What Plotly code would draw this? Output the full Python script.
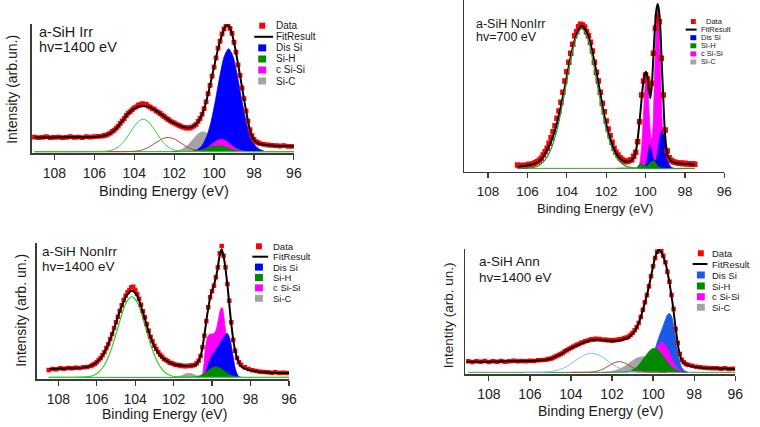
import plotly.graph_objects as go

W, H = 760, 427
FONT = "Arial, Liberation Sans, Helvetica, sans-serif"

TICKS = [108, 106, 104, 102, 100, 98, 96]
TICK_TEXT = ["108", "106", "104", "102", "100", "98", "96"]
LEGEND_LABELS = ["Data", "FitResult", "Dis Si", "Si-H", "c Si-Si", "Si-C"]

# ---------------- Panel 1 : a-SiH Irr, hv=1400 eV ----------------
P1_DATA_E = [109.0, 108.8, 108.6, 108.4, 108.2, 108.0, 107.8, 107.6, 107.4, 107.2, 107.0, 106.8, 106.6, 106.4, 106.2, 106.0, 105.8,
             105.6, 105.5, 105.4, 105.3, 105.2, 105.1, 105.0, 104.9, 104.8, 104.7, 104.6, 104.5, 104.4, 104.3, 104.2, 104.1,
             104.0, 103.9, 103.8, 103.7, 103.6, 103.5, 103.4, 103.3, 103.2, 103.1, 103.0, 102.9, 102.8, 102.7, 102.6, 102.5,
             102.4, 102.3, 102.2, 102.1, 102.0, 101.9, 101.8, 101.7, 101.6, 101.5, 101.4, 101.3, 101.2, 101.1, 101.0, 100.9,
             100.8, 100.7, 100.6, 100.5, 100.4, 100.3, 100.2, 100.1, 100.0, 99.9, 99.8, 99.7, 99.6, 99.5, 99.4, 99.3, 99.2,
             99.1, 99.0, 98.9, 98.8, 98.7, 98.6, 98.5, 98.4, 98.3, 98.2, 98.1, 98.0, 97.9, 97.8, 97.7,
             97.5, 97.3, 97.1, 96.9, 96.7, 96.5, 96.3, 96.1]
P1_DATA_I = [44, 42, 43, 45, 42, 43, 44, 42, 43, 45, 43, 44, 42, 45, 44, 45, 46,
             47, 49, 50, 53, 56, 61, 65, 71, 77, 85, 93, 100, 109, 116, 121, 127,
             132, 135, 140, 142, 145, 141, 143, 137, 134, 130, 128, 122, 119, 115, 110, 106,
             101, 97, 93, 89, 87, 83, 80, 78, 75, 73, 71, 72, 71, 74, 78, 82,
             91, 100, 113, 130, 150, 175, 200, 228, 255, 283, 312, 333, 355, 370, 385, 382, 372,
             357, 330, 300, 262, 230, 192, 160, 123, 92, 66, 48, 37, 30, 27, 24,
             22, 20, 19, 18, 17, 18, 16, 16]
P1_FIT_E = [109.0, 108.0, 107.0, 106.0, 105.5, 105.2, 104.9, 104.6, 104.3, 104.0, 103.75, 103.5, 103.25, 103.0, 102.75,
            102.5, 102.25, 102.0, 101.75, 101.5, 101.25, 101.0, 100.8, 100.6, 100.4, 100.2, 100.0, 99.8, 99.6, 99.4,
            99.25, 99.1, 98.95, 98.8, 98.6, 98.4, 98.2, 98.0, 97.8, 97.5, 97.0, 96.5, 96.0]
P1_FIT_I = [43, 43, 43.5, 44, 48, 55, 70, 92, 115, 130, 136, 138, 135, 127, 117,
            106, 95, 86, 79, 74, 72, 78, 90, 112, 150, 200, 255, 310, 352, 380,
            378, 355, 315, 265, 195, 125, 65, 36, 26, 21, 18, 17, 16]
P1_G1_E = [109.0, 106.5, 105.55, 105.3, 105.05, 104.8, 104.55, 104.3, 104.05, 103.8, 103.55, 103.3, 103.05, 102.8,
           102.55, 102.3, 102.05, 101.8, 101.55, 100.5, 96.0]
P1_G1_I = [0, 0, 0.7, 2.2, 6.1, 14.3, 28.5, 49, 72, 90.7, 98, 90.7, 72, 49, 28.5, 14.3, 6.1, 2.2, 0.7, 0, 0]
P1_G2_E = [109.0, 105.3, 104.3, 104.05, 103.8, 103.55, 103.3, 103.05, 102.8, 102.55, 102.3, 102.05, 101.8, 101.55,
           101.3, 101.05, 100.8, 100.55, 100.3, 99.3, 96.0]
P1_G2_I = [0, 0, 0.3, 1.0, 2.7, 6.3, 12.5, 21.5, 31.6, 39.8, 43, 39.8, 31.6, 21.5, 12.5, 6.3, 2.7, 1.0, 0.3, 0, 0]
P1_SIC_E = [102.15, 101.95, 101.75, 101.55, 101.35, 101.15, 100.95, 100.75, 100.55, 100.35, 100.15, 99.95, 99.75, 99.55,
            99.35, 99.15, 98.95]
P1_SIC_I = [0.4, 1.4, 3.8, 8.8, 17.5, 30, 44, 55.6, 60, 55.6, 44, 30, 17.5, 8.8, 3.8, 1.4, 0.4]
P1_DIS_E = [101.03, 100.81, 100.59, 100.37, 100.15, 99.93, 99.71, 99.49, 99.27, 99.05, 98.83, 98.61, 98.39, 98.17,
            97.95, 97.73, 97.51]
P1_DIS_I = [2.3, 7.0, 19.4, 45.3, 90.2, 155, 228, 287, 310, 287, 228, 155, 90.2, 45.3, 19.4, 7.0, 2.3]
P1_CSI_E = [101.09, 100.91, 100.73, 100.55, 100.37, 100.19, 100.01, 99.83, 99.65, 99.47, 99.29, 99.11, 98.93, 98.75,
            98.57, 98.39, 98.21]
P1_CSI_I = [0.3, 0.8, 2.3, 5.4, 10.8, 18.5, 27.2, 34.3, 37, 34.3, 27.2, 18.5, 10.8, 5.4, 2.3, 0.8, 0.3]
P1_SIH_E = [109.0, 101.8, 101.42, 101.22, 101.02, 100.82, 100.62, 100.42, 100.22, 100.02, 99.82, 99.62, 99.42, 99.22,
            99.02, 98.82, 98.62, 98.42, 98.22, 97.8, 96.0]
P1_SIH_I = [0, 0, 0.1, 0.4, 1.1, 2.6, 5.2, 9, 13.2, 16.7, 18, 16.7, 13.2, 9, 5.2, 2.6, 1.1, 0.4, 0.1, 0, 0]

# ---------------- Panel 2 : a-SiH NonIrr, hv=700 eV ----------------
P2_DATA_E = [106.5, 106.4, 106.3, 106.2, 106.1, 106.0, 105.9, 105.8, 105.7, 105.6,
             105.5, 105.4, 105.3, 105.2, 105.1, 105.0, 104.9, 104.8, 104.7, 104.6,
             104.5, 104.4, 104.3, 104.2, 104.1, 104.0, 103.9, 103.8, 103.7, 103.6,
             103.5, 103.4, 103.3, 103.2, 103.1, 103.0, 102.9, 102.8, 102.7, 102.6,
             102.5, 102.4, 102.3, 102.2, 102.1, 102.0, 101.9, 101.8, 101.7, 101.6,
             101.5, 101.4, 101.3, 101.2, 101.1, 101.0, 100.9, 100.8, 100.7, 100.6,
             100.5, 100.4, 100.3, 100.2, 100.1, 100.0, 99.9, 99.8, 99.7, 99.6,
             99.5, 99.4, 99.3, 99.2, 99.1, 99.0, 98.9, 98.8, 98.7, 98.6,
             98.5, 98.4, 98.3, 98.2, 98.1, 98.0, 97.9, 97.8, 97.7, 97.6, 97.5]
P2_DATA_I = [10, 8, 6, 9, 7, 10, 12, 11, 14, 17,
             20, 24, 30, 40, 50, 60, 75, 92, 110, 128,
             150, 172, 198, 228, 262, 290, 318, 345, 372, 398,
             410, 425, 432, 430, 424, 410, 398, 378, 352, 318,
             288, 262, 228, 195, 170, 142, 118, 98, 78, 60,
             48, 40, 32, 27, 23, 20, 21, 24, 26, 36,
             48, 80, 140, 220, 262, 280, 268, 238, 255, 345,
             420, 455, 440, 330, 220, 115, 52, 32, 24, 20,
             18, 17, 15, 16, 14, 15, 13, 14, 12, 13, 12]
P2_FIT_E = [106.5, 106.2, 105.9, 105.6, 105.4, 105.2, 105.0, 104.8, 104.6, 104.4, 104.2, 104.0, 103.8, 103.6, 103.4,
            103.25, 103.1, 102.9, 102.7, 102.5, 102.3, 102.1, 101.9, 101.7, 101.5, 101.3, 101.1, 100.9, 100.7, 100.55,
            100.45, 100.35, 100.25, 100.15, 100.05, 99.98, 99.9, 99.83, 99.76, 99.68, 99.6, 99.52, 99.44, 99.38, 99.32,
            99.25, 99.18, 99.1, 99.03, 98.95, 98.85, 98.7, 98.5, 98.2, 97.9, 97.5]
P2_FIT_I = [5, 7, 10, 15, 22, 35, 55, 80, 115, 160, 215, 275, 335, 385, 415,
            428, 420, 395, 350, 290, 225, 160, 110, 72, 45, 30, 22, 20, 25, 40,
            65, 115, 175, 240, 280, 290, 275, 235, 210, 250, 340, 425, 480, 493, 475,
            420, 320, 210, 120, 65, 35, 22, 17, 14, 13, 11]
P2_G1_E = [106.5, 105.7, 105.39, 105.09, 104.78, 104.47, 104.17, 103.86, 103.55, 103.24, 102.93, 102.63, 102.32,
           102.01, 101.71, 101.40, 101.09, 100.78, 100.3, 97.5]
P2_G1_I = [0, 3.1, 9.5, 26.3, 61.3, 122, 210, 309, 389, 420, 389, 309, 210, 122, 61.3, 26.3, 9.5, 3.1, 0, 0]
P2_CSI_E = [100.5, 100.4, 100.3, 100.2, 100.12, 100.05, 99.97, 99.9, 99.83, 99.76, 99.7, 99.63, 99.56, 99.48, 99.4,
            99.33, 99.26, 99.18, 99.1, 99.02, 98.92, 98.8]
P2_CSI_I = [0, 2, 15, 63, 143, 224, 275, 251, 182, 111, 85, 115, 240, 390, 482, 455, 335, 175, 66, 18, 2, 0]
P2_DIS_E = [100.2, 100.05, 99.98, 99.9, 99.84, 99.78, 99.72, 99.65, 99.58, 99.5, 99.42, 99.34, 99.25, 99.16, 99.07,
            98.98, 98.9, 98.8, 98.7, 98.55]
P2_DIS_I = [0, 3, 12, 35, 58, 70, 58, 38, 25, 22, 37, 66, 100, 115, 100, 66, 36, 12, 3, 0]
P2_SIH_E = [106.5, 100.8, 100.6, 100.45, 100.35, 100.23, 100.1, 100.0, 99.9, 99.8, 99.7, 99.62, 99.54, 99.44, 99.34,
            99.2, 99.0, 98.6, 97.5]
P2_SIH_I = [0, 0, 0, 2, 8, 15, 9, 6, 8, 14, 20, 22, 20, 12, 4, 1, 0, 0, 0]
P2_SIC_E = [101.5, 101.0, 100.6]
P2_SIC_I = [0, 2, 0]

# ---------------- Panel 3 : a-SiH NonIrr, hv=1400 eV ----------------
P3_DATA_E = [108.5, 108.3, 108.1, 107.9, 107.7, 107.5, 107.3, 107.1, 106.9, 106.7, 106.5, 106.3,
             106.2, 106.1, 106.0, 105.9, 105.8, 105.7, 105.6, 105.5, 105.4, 105.3,
             105.2, 105.1, 105.0, 104.9, 104.8, 104.7, 104.6, 104.5, 104.4, 104.3,
             104.2, 104.1, 104.0, 103.9, 103.8, 103.7, 103.6, 103.5, 103.4, 103.3,
             103.2, 103.1, 103.0, 102.9, 102.8, 102.7, 102.6, 102.5, 102.4, 102.3,
             102.2, 102.1, 102.0, 101.9, 101.8, 101.7, 101.6, 101.5, 101.4, 101.3,
             101.2, 101.1, 101.0, 100.9, 100.8, 100.7, 100.6, 100.5, 100.4, 100.3,
             100.2, 100.1, 100.0, 99.9, 99.8, 99.7, 99.6, 99.5, 99.4, 99.3,
             99.2, 99.1, 99.0, 98.9, 98.8, 98.7, 98.6, 98.5,
             98.3, 98.1, 97.9, 97.7, 97.5, 97.3, 97.1, 96.9, 96.7, 96.5, 96.3, 96.1]
P3_DATA_I = [22, 25, 24, 27, 26, 28, 27, 29, 28, 30, 31, 34,
             38, 41, 45, 52, 58, 66, 75, 88, 100, 115,
             130, 148, 165, 182, 200, 216, 232, 245, 255, 262,
             270, 272, 262, 250, 236, 218, 198, 180, 160, 140,
             122, 108, 95, 85, 76, 68, 62, 55, 52, 48,
             44, 42, 40, 38, 37, 36, 34, 35, 33, 34,
             35, 34, 36, 37, 42, 50, 64, 90, 125, 168,
             210, 240, 258, 275, 300, 330, 372, 394, 365, 330,
             280, 230, 165, 112, 80, 58, 45, 38,
             30, 25, 21, 19, 17, 16, 15, 14, 15, 13, 14, 13]
P3_FIT_E = [108.46, 107.5, 106.7, 106.25, 105.8, 105.45, 105.12, 104.78, 104.45, 104.18, 103.92, 103.58, 103.24, 102.9,
            102.55, 102.05, 101.35, 100.85, 100.7, 100.58, 100.41, 100.24, 100.07, 99.9, 99.8, 99.72, 99.6, 99.5, 99.38,
            99.21, 99.04, 98.87, 98.69, 98.44, 97.92, 97.4, 96.9, 96.0]
P3_FIT_I = [24, 27, 29, 36, 57, 92, 142, 202, 245, 260, 247, 192, 127, 82,
            57, 40, 34, 37, 50, 67, 122, 192, 247, 277, 300, 322, 367, 384, 357,
            282, 182, 102, 57, 30, 20, 16, 14, 13]
P3_G1_E = [108.5, 107.2, 106.48, 106.19, 105.9, 105.62, 105.33, 105.04, 104.75, 104.47, 104.18, 103.89, 103.61, 103.32,
           103.03, 102.74, 102.46, 102.17, 101.88, 101.2, 96.0]
P3_G1_I = [0, 0, 1.8, 5.5, 15.1, 35.3, 70.4, 121, 178, 224, 242, 224, 178, 121, 70.4, 35.3, 15.1, 5.5, 1.8, 0, 0]
P3_CSI_E = [100.6, 100.5, 100.42, 100.35, 100.25, 100.15, 100.05, 99.95, 99.85, 99.75, 99.65, 99.55, 99.47, 99.4, 99.32,
            99.24, 99.15, 99.05, 98.95, 98.85, 98.7]
P3_CSI_I = [0, 8, 40, 85, 118, 128, 130, 130, 135, 150, 180, 205, 209, 190, 150, 110, 70, 35, 12, 3, 0]
P3_DIS_E = [100.45, 100.35, 100.25, 100.1, 99.95, 99.8, 99.65, 99.5, 99.35, 99.22, 99.1, 99.0, 98.9, 98.8, 98.7, 98.6,
            98.5]
P3_DIS_I = [0, 10, 30, 55, 70, 82, 95, 110, 125, 132, 120, 95, 60, 28, 10, 2, 0]
P3_SIH_E = [108.5, 101.3, 101.0, 100.8, 100.6, 100.4, 100.2, 100.0, 99.8, 99.6, 99.4, 99.2, 99.0, 98.8, 98.5, 96.0]
P3_SIH_I = [0, 0, 0.5, 2, 5.4, 11.8, 20.5, 28.6, 32, 28.6, 20.5, 11.8, 5.4, 2, 0, 0]
P3_SIC_E = [102.0, 101.7, 101.5, 101.35, 101.2, 101.05, 100.9, 100.7, 100.4]
P3_SIC_I = [0, 3, 7, 10.5, 12, 10.5, 7, 3, 0]

# ---------------- Panel 4 : a-SiH Ann, hv=1400 eV ----------------
P4_DATA_E = [109.0, 108.8, 108.6, 108.4, 108.2, 108.0, 107.8, 107.6, 107.4, 107.2, 107.0, 106.8, 106.6, 106.4, 106.2,
             106.0, 105.8, 105.6, 105.4, 105.2,
             105.1, 105.0, 104.9, 104.8, 104.7, 104.6, 104.5, 104.4, 104.3, 104.2,
             104.1, 104.0, 103.9, 103.8, 103.7, 103.6, 103.5, 103.4, 103.3, 103.2,
             103.1, 103.0, 102.9, 102.8, 102.7, 102.6, 102.5, 102.4, 102.3, 102.2,
             102.1, 102.0, 101.9, 101.8, 101.7, 101.6, 101.5, 101.4, 101.3, 101.2,
             101.1, 101.0, 100.9, 100.8, 100.7, 100.6, 100.5, 100.4, 100.3, 100.2,
             100.1, 100.0, 99.9, 99.8, 99.7, 99.6, 99.5, 99.4, 99.3, 99.2,
             99.1, 99.0, 98.9, 98.8, 98.7, 98.6, 98.5, 98.4, 98.3,
             98.1, 97.9, 97.7, 97.5, 97.3, 97.1, 96.9, 96.7, 96.5, 96.3, 96.1]
P4_DATA_I = [33, 31, 33, 32, 34, 31, 33, 32, 34, 32, 33, 35, 33, 34, 33,
             35, 34, 36, 37, 38,
             40, 41, 43, 46, 49, 52, 55, 58, 63, 66,
             70, 73, 77, 80, 83, 85, 89, 90, 93, 95,
             97, 99, 98, 101, 99, 100, 98, 97, 98, 96,
             97, 95, 96, 97, 98, 99, 100, 103, 104, 107,
             112, 118, 126, 135, 148, 166, 188, 210, 232, 258,
             288, 318, 343, 362, 372, 364, 350, 330, 302, 272,
             232, 190, 130, 88, 55, 38, 30, 25, 23,
             20, 17, 15, 14, 13, 12, 12, 11, 12, 10, 11]
P4_FIT_E = [109.09, 108.0, 107.0, 106.0, 105.4, 105.08, 104.75, 104.43, 104.2, 103.95, 103.7, 103.47, 103.2, 102.99,
            102.75, 102.51, 102.25, 102.02, 101.75, 101.54, 101.38, 101.22, 100.98, 100.86, 100.74, 100.62, 100.5,
            100.38, 100.26, 100.14, 100.02, 99.94, 99.86, 99.78, 99.69, 99.61, 99.53, 99.45, 99.37, 99.29, 99.21,
            99.13, 99.05, 98.97, 98.89, 98.81, 98.73, 98.65, 98.57, 98.45, 98.33, 98.0, 97.7, 97.0, 96.0]
P4_FIT_I = [32, 32, 33, 34, 36, 39, 47, 57, 66, 74, 81, 87, 93, 97,
            98, 97, 95, 95, 95, 97, 100, 104, 117, 127, 142, 162, 187,
            213, 242, 276, 312, 335, 352, 363, 367, 362, 352, 338, 322, 298, 272,
            240, 207, 168, 127, 92, 62, 44, 32, 26, 22, 17, 14, 12, 10]
P4_G1_E = [106.3, 105.46, 105.15, 104.85, 104.54, 104.23, 103.93, 103.62, 103.31, 103.0, 102.69, 102.38, 102.08,
           101.77, 101.46, 101.15, 100.85, 100.54, 99.7]
P4_G1_I = [0, 0.4, 1.3, 3.6, 8.3, 16.6, 28.5, 41.9, 52.8, 57, 52.8, 41.9, 28.5, 16.6, 8.3, 3.6, 1.3, 0.4, 0]
P4_G2_E = [104.0, 103.25, 103.05, 102.85, 102.65, 102.45, 102.25, 102.05, 101.85, 101.65, 101.45, 101.25, 101.05,
           100.85, 100.65, 100.45, 100.25, 100.05, 99.3]
P4_G2_I = [0, 0.2, 0.7, 2.0, 4.7, 9.3, 16, 23.5, 29.6, 32, 29.6, 23.5, 16, 9.3, 4.7, 2.0, 0.7, 0.2, 0]
P4_SIC_E = [102.5, 102.25, 102.0, 101.75, 101.5, 101.25, 101.0, 100.75, 100.5, 100.25, 100.0, 99.75, 99.5, 99.25,
            99.0, 98.75, 98.5]
P4_SIC_I = [0.3, 1.1, 2.9, 6.9, 13.7, 23.5, 34.5, 43.5, 47, 43.5, 34.5, 23.5, 13.7, 6.9, 2.9, 1.1, 0.3]
P4_DIS_E = [100.45, 100.3, 100.15, 100.0, 99.85, 99.7, 99.55, 99.4, 99.3, 99.21, 99.1, 99.0, 98.9, 98.8, 98.7, 98.6,
            98.45, 98.3]
P4_DIS_I = [0, 5, 20, 48, 80, 108, 132, 158, 172, 177, 168, 140, 100, 62, 32, 14, 4, 0]
P4_CSI_E = [100.77, 100.62, 100.47, 100.32, 100.17, 100.02, 99.87, 99.72, 99.57, 99.42, 99.27, 99.12, 98.97, 98.82,
            98.67, 98.52, 98.37]
P4_CSI_I = [0.7, 2.0, 5.6, 13.1, 26.2, 45, 66, 83, 90, 83, 66, 45, 26.2, 13.1, 5.6, 2.0, 0.7]
P4_SIH_E = [109.0, 101.9, 101.47, 101.28, 101.09, 100.90, 100.71, 100.52, 100.32, 100.13, 99.94, 99.75, 99.56, 99.36,
            99.17, 98.98, 98.79, 98.60, 98.41, 98.0, 96.0]
P4_SIH_I = [0, 0, 0.5, 1.6, 4.5, 10.5, 21, 36, 52.9, 66.7, 72, 66.7, 52.9, 36, 21, 10.5, 4.5, 1.6, 0.5, 0, 0]

# ---------------- styling ----------------
RED = "#ff0000"
MAG = "#ff00ff"
GRAY = "#a4a4a4"
SIH = "#008a00"
LGREEN = "#2ed12e"
BROWN = "#b5443c"
LBLUE = "#8ab6f2"
AXC = "#3a3a3a"


def px(x):
    return x / W


def py(y):
    return 1 - y / H


PANELS = [
    dict(n="", xpx=(32, 297), ypx=(24, 153.3), xr=[109.14, 96.0], yr=[-5, 385], tick=14, blue="#0000ff", msize=4.8),
    dict(n="2", xpx=(469, 732), ypx=(0, 171.7), xr=[109.22, 96.0], yr=[-10, 505], tick=13.5, blue="#0000ee", msize=5.5),
    dict(n="3", xpx=(37, 292), ypx=(243.3, 379.3), xr=[109.13, 96.0], yr=[-6, 402], tick=14, blue="#0000ff", msize=4.5),
    dict(n="4", xpx=(470, 743), ypx=(249, 374.3), xr=[109.16, 96.0], yr=[-6, 370], tick=14, blue="#1a5ae6", msize=4.5),
]

fig = go.Figure()


def ax(n):
    return ("x" + n, "y" + n)


def add_fill(e, i, color, n):
    xa, ya = ax(n)
    fig.add_trace(go.Scatter(x=e, y=i, mode="lines", fill="tozeroy", fillcolor=color,
                             line=dict(color=color, width=0.8, shape="spline", smoothing=0.8),
                             xaxis=xa, yaxis=ya, showlegend=False, hoverinfo="skip"))


def add_line(e, i, color, n, width=1.0):
    xa, ya = ax(n)
    fig.add_trace(go.Scatter(x=e, y=i, mode="lines",
                             line=dict(color=color, width=width, shape="spline", smoothing=0.8),
                             xaxis=xa, yaxis=ya, showlegend=False, hoverinfo="skip"))


def add_data(e, i, n, size):
    xa, ya = ax(n)
    fig.add_trace(go.Scatter(x=e, y=i, mode="markers",
                             marker=dict(symbol="square", size=size, color=RED, line=dict(width=0)),
                             xaxis=xa, yaxis=ya, showlegend=False, hoverinfo="skip"))


def add_fit(e, i, n):
    add_line(e, i, "#000000", n, width=2.0)


# Panel 1
add_fill(P1_SIC_E, P1_SIC_I, GRAY, "")
add_fill(P1_DIS_E, P1_DIS_I, PANELS[0]["blue"], "")
add_fill(P1_CSI_E, P1_CSI_I, MAG, "")
add_fill(P1_SIH_E, P1_SIH_I, SIH, "")
add_line(P1_G2_E, P1_G2_I, BROWN, "")
add_line(P1_G1_E, P1_G1_I, LGREEN, "")
add_data(P1_DATA_E, P1_DATA_I, "", PANELS[0]["msize"])
add_fit(P1_FIT_E, P1_FIT_I, "")

# Panel 2
add_fill(P2_SIC_E, P2_SIC_I, GRAY, "2")
add_fill(P2_CSI_E, P2_CSI_I, MAG, "2")
add_fill(P2_DIS_E, P2_DIS_I, PANELS[1]["blue"], "2")
add_fill(P2_SIH_E, P2_SIH_I, SIH, "2")
add_data(P2_DATA_E, P2_DATA_I, "2", PANELS[1]["msize"])
add_fit(P2_FIT_E, P2_FIT_I, "2")
add_line(P2_G1_E, P2_G1_I, "#2f9a3f", "2", width=1.3)

# Panel 3
add_fill(P3_SIC_E, P3_SIC_I, GRAY, "3")
add_fill(P3_CSI_E, P3_CSI_I, MAG, "3")
add_fill(P3_DIS_E, P3_DIS_I, PANELS[2]["blue"], "3")
add_fill(P3_SIH_E, P3_SIH_I, SIH, "3")
add_line(P3_G1_E, P3_G1_I, LGREEN, "3", width=1.2)
add_data(P3_DATA_E, P3_DATA_I, "3", PANELS[2]["msize"])
add_fit(P3_FIT_E, P3_FIT_I, "3")

# Panel 4
add_fill(P4_SIC_E, P4_SIC_I, GRAY, "4")
add_fill(P4_DIS_E, P4_DIS_I, PANELS[3]["blue"], "4")
add_fill(P4_CSI_E, P4_CSI_I, MAG, "4")
add_fill(P4_SIH_E, P4_SIH_I, SIH, "4")
add_line(P4_G1_E, P4_G1_I, LBLUE, "4")
add_line(P4_G2_E, P4_G2_I, BROWN, "4")
add_data(P4_DATA_E, P4_DATA_I, "4", PANELS[3]["msize"])
add_fit(P4_FIT_E, P4_FIT_I, "4")

layout = dict(width=W, height=H, margin=dict(l=0, r=0, t=0, b=0), paper_bgcolor="white",
              plot_bgcolor="rgba(0,0,0,0)", showlegend=False, font=dict(family=FONT, color="#222"))

for p in PANELS:
    n = p["n"]
    layout["xaxis" + n] = dict(domain=[px(p["xpx"][0]), px(p["xpx"][1])], range=p["xr"], anchor="y" + n,
                               showline=True, linecolor=AXC, linewidth=1.3, ticks="outside", ticklen=5,
                               tickwidth=1.2, tickcolor=AXC, tickvals=TICKS, ticktext=TICK_TEXT,
                               tickfont=dict(family=FONT, size=p["tick"], color="#222"), ticklabelstandoff=2,
                               showgrid=False, zeroline=False, fixedrange=True)
    layout["yaxis" + n] = dict(domain=[py(p["ypx"][1]), py(p["ypx"][0])], range=p["yr"], anchor="x" + n,
                               showline=True, linecolor=AXC, linewidth=1.3, ticks="", showticklabels=False,
                               showgrid=False, zeroline=False, fixedrange=True)

fig.update_layout(**layout)

ann = []
shapes = []


def text(x, y, s, size, anchor="left", angle=0):
    ann.append(dict(x=px(x), y=py(y), xref="paper", yref="paper", text=s, showarrow=False,
                    xanchor=anchor, yanchor="middle", textangle=angle, borderpad=0,
                    font=dict(family=FONT, size=size, color="#1a1a1a")))


# panel labels
text(38, 32, "a-SiH Irr", 14.5)
text(38, 47, "hv=1400 eV", 14.5)
text(480, 24, "a-SiH NonIrr", 12.5)
text(480, 37.5, "hv=700 eV", 12.5)
text(41, 251, "a-SiH NonIrr", 13.5)
text(41, 266.5, "hv=1400 eV", 13.5)
text(483, 261, "a-SiH Ann", 13.5)
text(483, 277, "hv=1400 eV", 13.5)

# axis titles
text(166, 191, "Binding Energy (eV)", 14.5, anchor="center")
text(601, 208, "Binding Energy (eV)", 13, anchor="center")
text(166, 414, "Binding Energy (eV)", 14, anchor="center")
text(607, 411, "Binding Energy (eV)", 14, anchor="center")
text(12, 89, "Intensity (arb.un.)", 14, anchor="center", angle=-90)
text(21, 310, "Intensity (arb. un.)", 14, anchor="center", angle=-90)
text(453, 315, "Intentity (arb. un.)", 13.5, anchor="center", angle=-90)

# manual legends
LEGENDS = [
    dict(mx=265, tx=278, ys=[25.7, 36.8, 47.9, 59.0, 70.0, 81.0], fs=10, rw=8, rh=7, ds=6, lx=(257, 276), blue=PANELS[0]["blue"]),
    dict(mx=700.7, tx=707, ys=[21.5, 29.6, 37.7, 45.8, 53.9, 62], fs=7.5, rw=6, rh=5, ds=5, lx=(693, 704), blue=PANELS[1]["blue"]),
    dict(mx=261.7, tx=275, ys=[246.3, 256.7, 267.1, 277.5, 287.9, 298.3], fs=9.5, rw=8, rh=7, ds=6, lx=(255, 271), blue=PANELS[2]["blue"]),
    dict(mx=708.3, tx=719, ys=[253.3, 264, 275, 286, 296.7, 307.3], fs=9.5, rw=8, rh=7, ds=6, lx=(700, 715), blue=PANELS[3]["blue"]),
]


def rect(cx, cy, w, h, color):
    shapes.append(dict(type="rect", xref="paper", yref="paper", x0=px(cx - w / 2), x1=px(cx + w / 2),
                       y0=py(cy + h / 2), y1=py(cy - h / 2), fillcolor=color, line=dict(width=0)))


for k, L in enumerate(LEGENDS):
    ys = L["ys"]
    rect(L["mx"], ys[0], L["ds"], L["ds"], RED)
    shapes.append(dict(type="line", xref="paper", yref="paper", x0=px(L["lx"][0]), x1=px(L["lx"][1]),
                       y0=py(ys[1]), y1=py(ys[1]), line=dict(color="#000", width=2)))
    for j, c in enumerate([L["blue"], SIH, MAG, GRAY]):
        rect(L["mx"], ys[j + 2], L["rw"], L["rh"], c)
    for j, lab in enumerate(LEGEND_LABELS):
        tx = L["tx"] + (5 if (k == 1 and j == 0) else 0)
        text(tx, ys[j], lab, L["fs"])

fig.update_layout(annotations=ann, shapes=shapes)
fig.write_html("out.html", config={"displayModeBar": False, "staticPlot": True},
               post_script="document.body.style.margin='0px';document.body.style.overflow='hidden';")
